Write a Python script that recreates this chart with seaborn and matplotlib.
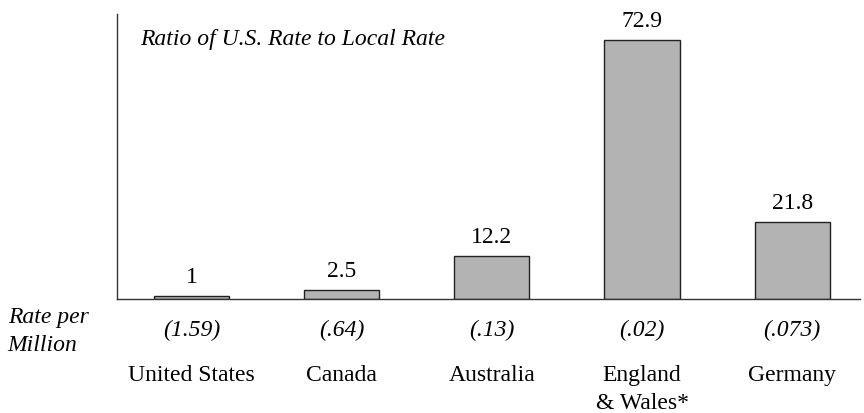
import matplotlib
matplotlib.use("Agg")
from matplotlib import pyplot as plt
import matplotlib.transforms as mtransforms
import pandas as pd
import seaborn as sns

# chart data
countries = ["United States", "Canada", "Australia", "England\n& Wales*", "Germany"]
ratios = [1, 2.5, 12.2, 72.9, 21.8]
ratio_labels = ["1", "2.5", "12.2", "72.9", "21.8"]
rates = ["(1.59)", "(.64)", "(.13)", "(.02)", "(.073)"]

sns.set_style("white")
plt.rcParams["font.family"] = ["Liberation Serif", "DejaVu Serif"]
plt.rcParams["text.color"] = "black"
plt.rcParams["xtick.labelcolor"] = "black"

df = pd.DataFrame({"country": countries, "ratio": ratios})

fig = plt.figure(figsize=(8.64, 4.13), dpi=100)
ax = fig.add_axes([0.135, 0.2753, 0.860, 0.691])

sns.barplot(data=df, x="country", y="ratio", color="#b3b3b3", saturation=1,
            width=0.5, edgecolor="#222222", linewidth=1, ax=ax)

ax.set_xlim(-0.498, 4.449)
ax.set_ylim(0, 80.2)
ax.set_xlabel("")
ax.set_ylabel("")
ax.set_yticks([])
ax.tick_params(axis="x", length=0, pad=47.5, labelsize=17)
for lbl in ax.get_xticklabels():
    lbl.set_verticalalignment("top")
    lbl.set_linespacing(1.4)

for side in ["top", "right"]:
    ax.spines[side].set_visible(False)
for side in ["left", "bottom"]:
    ax.spines[side].set_color("#333333")
    ax.spines[side].set_linewidth(1)

# value labels above bars
for i, (v, t) in enumerate(zip(ratios, ratio_labels)):
    ax.annotate(t, (i, v), xytext=(0, 9.3), textcoords="offset points",
                ha="center", va="baseline", fontsize=17)

# rate per million in italics under the axis
trans = mtransforms.blended_transform_factory(ax.transData, ax.transAxes)
for i, r in enumerate(rates):
    ax.text(i, -0.108, r, transform=trans, ha="center", va="center",
            fontsize=17, style="italic")

fig.text(0.009, 0.197, "Rate per\nMillion", ha="left", va="center",
         fontsize=17, style="italic", linespacing=1.4)

ax.text(0.031, 0.909, "Ratio of U.S. Rate to Local Rate", transform=ax.transAxes,
        ha="left", va="center", fontsize=17, style="italic")

fig.savefig("out.png", dpi=100)
